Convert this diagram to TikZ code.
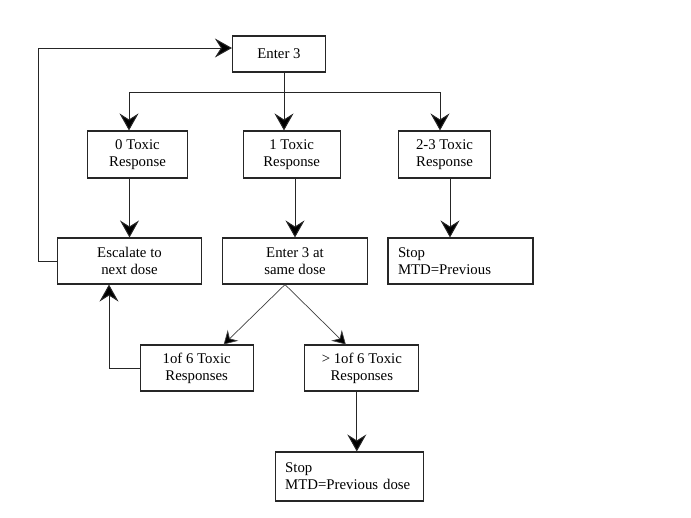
\documentclass[tikz,border=0pt]{standalone}
\usepackage{fontspec}
\setmainfont{Liberation Serif}
\usetikzlibrary{arrows.meta}

\begin{document}
\begin{tikzpicture}[x=1pt, y=-1pt,
	box/.style={draw=black!85, line width=1.1pt, align=center, inner sep=2pt, font=\fontsize{14.8}{17}\selectfont},
	stopbox/.style={box, align=left, inner xsep=10pt},
	link/.style={draw=black!85, line width=1pt, -{Stealth[length=17pt, width=19pt, inset=6pt, fill=black]}},
	thinlink/.style={draw=black!75, line width=0.7pt, -{Stealth[length=13pt, width=15pt, inset=4.5pt, fill=black]}}]

	\useasboundingbox (0,0) rectangle (691,517);

	\node[box, minimum width=93pt, minimum height=36pt] (enter) at (279,54) {Enter 3};

	\node[box, minimum width=100pt, minimum height=47pt] (resp0) at (137.5,154.5) {0 Toxic\\Response};
	\node[box, minimum width=97pt, minimum height=47pt] (resp1) at (291.7,154.5) {1 Toxic\\Response};
	\node[box, minimum width=92pt, minimum height=47pt] (resp2) at (444.5,154.5) {2-3 Toxic\\Response};

	\node[box, minimum width=144pt, minimum height=46pt] (escalate) at (129.5,261) {Escalate to\\next dose};
	\node[box, minimum width=145pt, minimum height=46pt] (same) at (295,261) {Enter 3 at\\same dose};
	\node[stopbox, text width=125pt, minimum height=46pt] (stopA) at (460.5,261) {Stop\\MTD=Previous};

	\node[box, minimum width=113pt, minimum height=46pt] (oneof) at (196.7,368) {1of 6 Toxic\\Responses};
	\node[box, minimum width=114pt, minimum height=46pt] (more) at (361.8,368) {> 1of 6 Toxic\\Responses};

	\node[stopbox, text width=128pt, minimum height=49pt] (stopB) at (349.2,476.5) {Stop\\MTD=Previous dose};

	% split after the first cohort
	\draw[draw=black!85, line width=1pt] ([xshift=5pt]enter.south) -- ++(0,20) coordinate (split);
	\draw[link] (split) -| ([xshift=-8.5pt]resp0.north);
	\draw[link] (split) -- (split |- resp1.north);
	\draw[link] (split) -| ([xshift=-4.5pt]resp2.north);

	\draw[link] (escalate.north |- resp0.south) -- (escalate.north);
	\draw[link] (same.north |- resp1.south) -- (same.north);
	\draw[link] ([xshift=5.5pt]resp2.south) -- ([xshift=5.5pt]resp2.south |- stopA.north);

	% second cohort
	\draw[thinlink] ([xshift=-10pt]same.south) -- ([xshift=27pt]oneof.north);
	\draw[thinlink] ([xshift=-10pt]same.south) -- ([xshift=-16pt]more.north);
	\draw[link] ([xshift=-5pt]more.south) -- ([xshift=-5pt]more.south |- stopB.north);

	% back to the next dose
	\draw[link] (oneof.west) -| ([xshift=-20.5pt]escalate.south);
	\draw[link] (escalate.west) -- ++(-18,0) |- ([yshift=6pt]enter.west);
\end{tikzpicture}
\end{document}
